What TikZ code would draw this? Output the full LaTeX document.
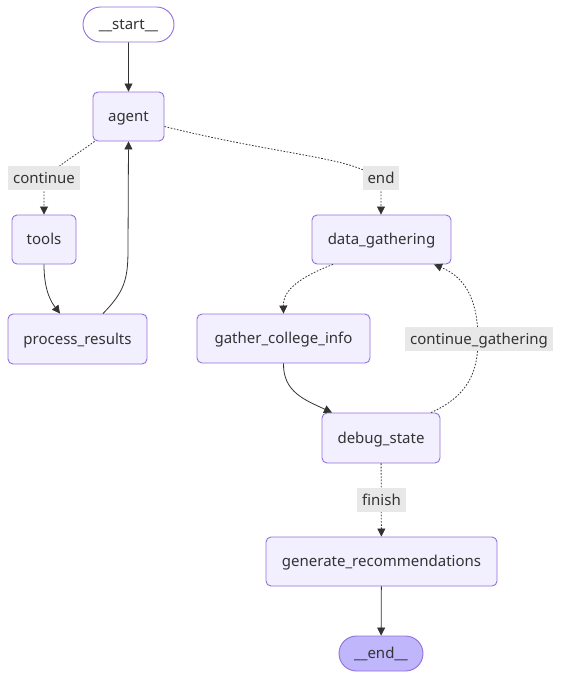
\documentclass[tikz,border=0pt]{standalone}
\usepackage{fontspec}
\setmainfont{Noto Sans}
\usetikzlibrary{arrows.meta,shapes.misc}
\definecolor{nodefill}{HTML}{F2F0FF}
\definecolor{nodeborder}{HTML}{9370DB}
\definecolor{endfill}{HTML}{BFB6FC}
\definecolor{txt}{HTML}{333333}
\definecolor{lblbg}{HTML}{E8E8E8}
\definecolor{edge}{HTML}{333333}
\tikzset{
  txtfont/.style={text=txt, font=\fontsize{15}{18}\selectfont, text height=13.5pt, text depth=3pt},
  box/.style={draw=nodeborder, fill=nodefill, line width=0.9pt, rounded corners=5pt,
    txtfont, inner sep=0pt, minimum height=49pt},
  term/.style={draw=nodeborder, line width=0.9pt, rounded rectangle,
    txtfont, inner sep=0pt, minimum height=35pt},
  lbl/.style={fill=lblbg, txtfont, inner sep=0pt, minimum height=24pt},
  solidedge/.style={draw=edge, line width=0.8pt, -{Triangle[length=8pt,width=8pt]}},
  dotedge/.style={draw=edge, line width=0.8pt, dash pattern=on 1.6pt off 1.6pt, -{Triangle[length=8pt,width=8pt]}},
}
\begin{document}
\begin{tikzpicture}[x=1pt,y=-1pt]
\useasboundingbox (0,0) rectangle (561,678);
% nodes
\node[term, fill=white, minimum width=91pt] (start) at (128.5,24.5) {\_\_start\_\_};
\node[box, minimum width=71pt] (agent) at (128.5,116.5) {agent};
\node[box, minimum width=64pt] (tools) at (44,239.5) {tools};
\node[box, minimum width=139pt, minimum height=50pt] (proc) at (77.5,339) {process\_results};
\node[box, minimum width=139pt] (data) at (381.5,239.5) {data\_gathering};
\node[box, minimum width=173pt] (gci) at (283.5,338.5) {gather\_college\_info};
\node[box, minimum width=118pt, minimum height=50pt] (debug) at (381,438) {debug\_state};
\node[box, minimum width=231pt] (gen) at (381.5,561.5) {generate\_recommendations};
\node[term, fill=endfill, minimum width=84pt] (end) at (381,653.5) {\_\_end\_\_};
% edges
\draw[solidedge] (start) -- (agent);
\draw[dotedge] ([xshift=2pt]agent.south west) .. controls (62,165) and (44,172) .. (44,192) -- (tools.north);
\draw[dotedge] ([yshift=-10pt]agent.east) .. controls (300,160) and (381,158) .. (381,190) -- ([xshift=-0.5pt]data.north);
\draw[solidedge] (tools.south) .. controls (44,292) and (52,303) .. ([xshift=-17.5pt]proc.north);
\draw[solidedge] ([xshift=25.5pt]proc.north) .. controls (124,292) and (128,280) .. (128,250) -- (agent.south);
\draw[dotedge] ([xshift=-48.5pt]data.south) .. controls (300,277) and (283,290) .. (gci.north);
\draw[solidedge] (gci.south) .. controls (283,392) and (305,400) .. ([xshift=-49pt]debug.north);
\draw[dotedge] ([xshift=50pt]debug.north) .. controls (468,396) and (478,372) .. (478,340)
  .. controls (478,295) and (462,276) .. ([xshift=52.5pt]data.south);
\draw[dotedge] (debug) -- (gen);
\draw[solidedge] (gen) -- (end);
% edge labels
\node[lbl, minimum width=72pt] (lcont) at (44,178) {continue};
\node[lbl, minimum width=36pt] (lend) at (381,178) {end};
\node[lbl, minimum width=148pt] (lcg) at (479,339) {continue\_gathering};
\node[lbl, minimum width=49pt] (lfin) at (381.5,500) {finish};
\end{tikzpicture}
\end{document}
